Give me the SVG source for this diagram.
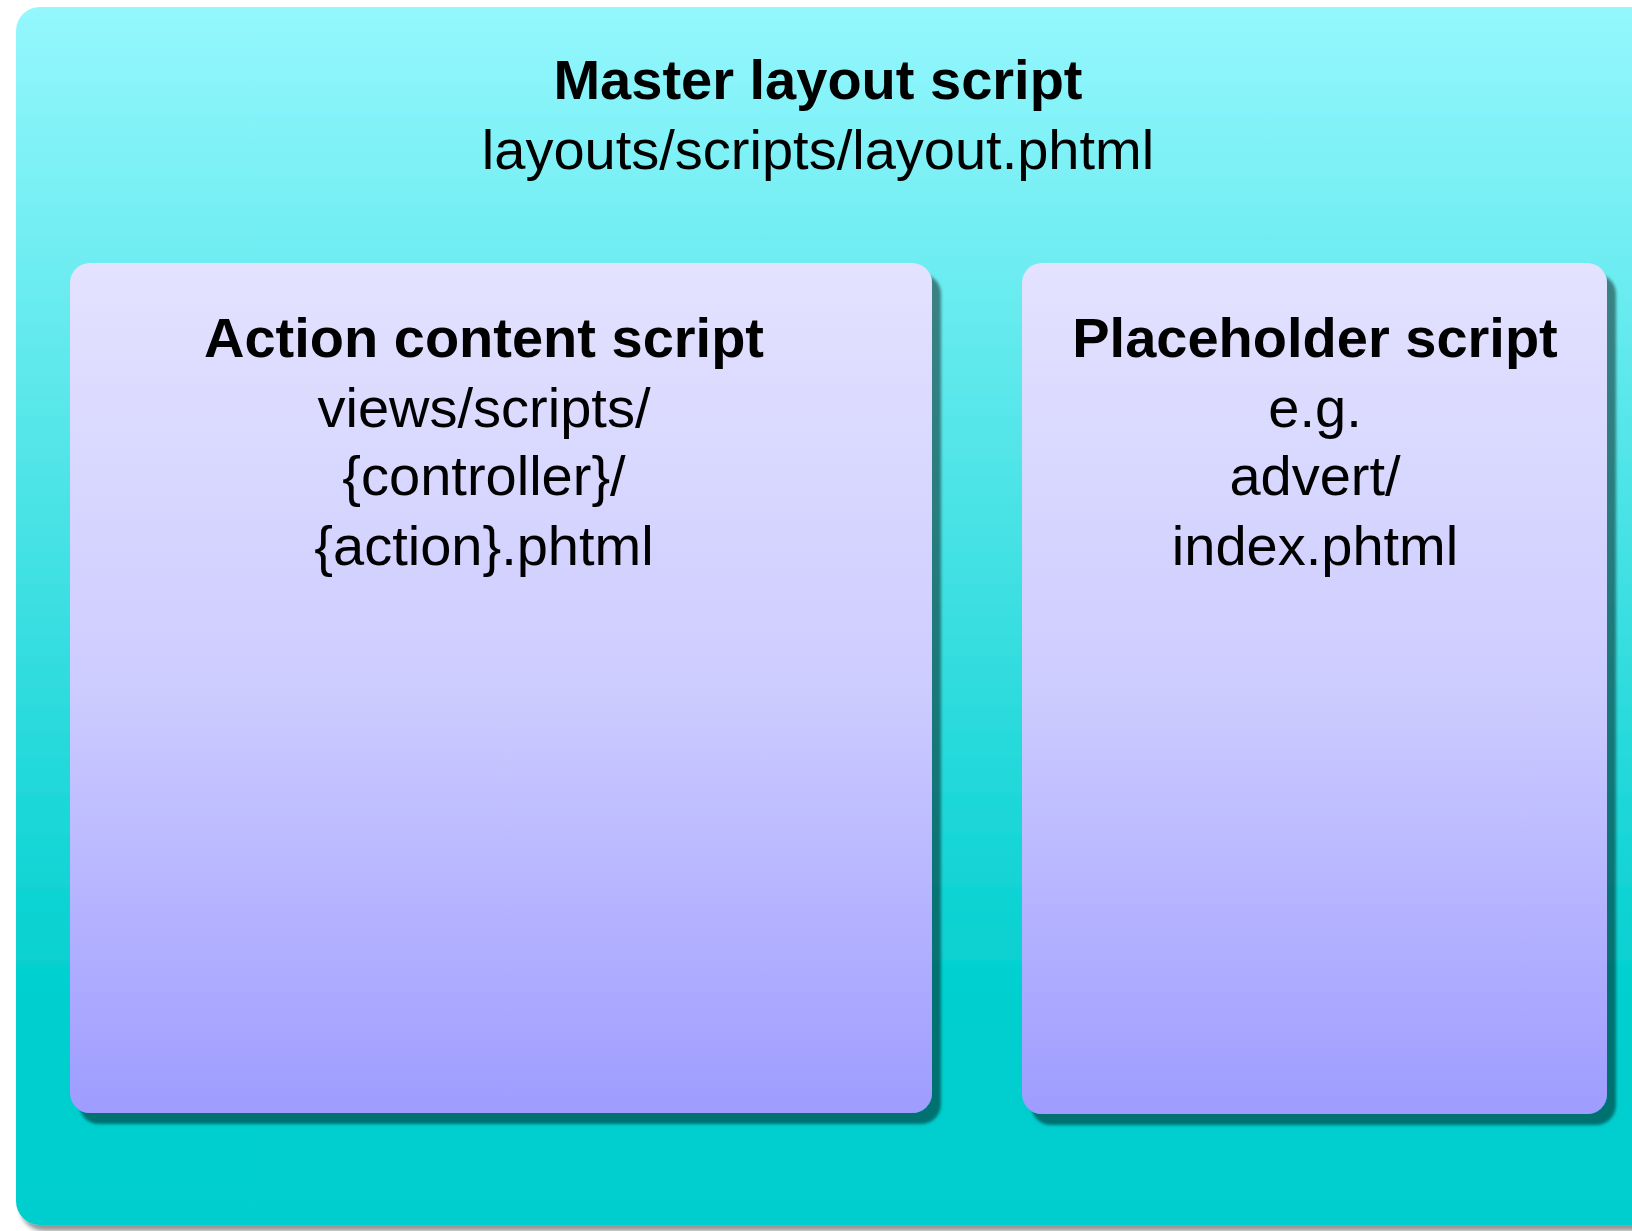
<svg xmlns="http://www.w3.org/2000/svg" width="1632" height="1231" viewBox="0 0 1632 1231">
<style>
.t{font-family:"Liberation Sans",Arial,Helvetica,sans-serif;font-size:56px;fill:#000;text-anchor:middle}
.b{font-weight:bold}
</style>
<defs>
<linearGradient id="gOuter" x1="0" y1="0" x2="0" y2="1">
<stop offset="0" stop-color="#94F7FD"/>
<stop offset="0.82" stop-color="#00CFCF"/>
<stop offset="1" stop-color="#00CECE"/>
</linearGradient>
<linearGradient id="gInner" x1="0" y1="0" x2="0" y2="1">
<stop offset="0" stop-color="#E3E2FF"/>
<stop offset="0.5" stop-color="#CDCCFF"/>
<stop offset="1" stop-color="#9E9CFF"/>
</linearGradient>
<filter id="shOuter" x="-5%" y="-5%" width="115%" height="115%">
<feDropShadow dx="4" dy="6" stdDeviation="2" flood-color="#000" flood-opacity="0.4"/>
</filter>
<filter id="shInner" x="-5%" y="-5%" width="115%" height="115%">
<feDropShadow dx="9" dy="11" stdDeviation="1.8" flood-color="#000" flood-opacity="0.45"/>
</filter>
</defs>
<g id="master">
<rect x="16" y="7" width="1640" height="1218" rx="24" ry="24" fill="url(#gOuter)" filter="url(#shOuter)"/>
<text class="t b" x="818" y="99">Master layout script</text>
<text class="t" x="818" y="169">layouts/scripts/layout.phtml</text>
</g>
<g id="action">
<rect x="70" y="263" width="862" height="850" rx="20" ry="20" fill="url(#gInner)" filter="url(#shInner)"/>
<text class="t b" x="484" y="357">Action content script</text>
<text class="t" x="484" y="427">views/scripts/</text>
<text class="t" x="484" y="495">{controller}/</text>
<text class="t" x="484" y="565">{action}.phtml</text>
</g>
<g id="placeholder">
<rect x="1022" y="263" width="585" height="851" rx="20" ry="20" fill="url(#gInner)" filter="url(#shInner)"/>
<text class="t b" x="1315" y="357">Placeholder script</text>
<text class="t" x="1315" y="427">e.g.</text>
<text class="t" x="1315" y="495">advert/</text>
<text class="t" x="1315" y="565">index.phtml</text>
</g>
<g id="connectors"/>
</svg>
